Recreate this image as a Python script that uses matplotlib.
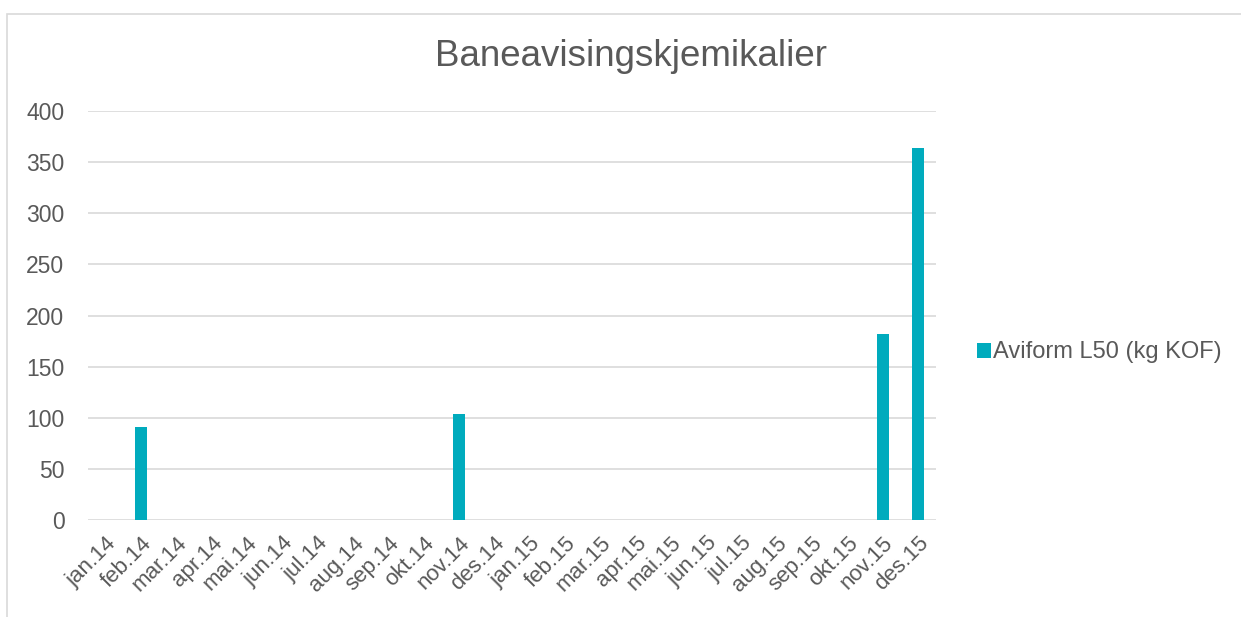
import matplotlib.pyplot as plt
from matplotlib.patches import Rectangle

plt.rcParams['font.family'] = ['Liberation Sans', 'DejaVu Sans']

months = ["jan.14", "feb.14", "mar.14", "apr.14", "mai.14", "jun.14",
          "jul.14", "aug.14", "sep.14", "okt.14", "nov.14", "des.14",
          "jan.15", "feb.15", "mar.15", "apr.15", "mai.15", "jun.15",
          "jul.15", "aug.15", "sep.15", "okt.15", "nov.15", "des.15"]
aviform = [0, 91, 0, 0, 0, 0, 0, 0, 0, 0, 104, 0,
           0, 0, 0, 0, 0, 0, 0, 0, 0, 0, 182, 364]

grey = "#595959"
teal = "#00ABBD"

fig = plt.figure(figsize=(12.41, 6.17), dpi=100)
ax = fig.add_axes([0.071, 0.157, 0.683, 0.663])

# ramme rundt hele figuren
fig.patches.append(Rectangle((0.006, -0.01), 1.5, 0.988, transform=fig.transFigure,
                             fill=False, edgecolor="#D9D9D9", linewidth=1.2))

idx = range(len(months))
ax.bar(idx, aviform, width=0.33, color=teal, label="Aviform L50 (kg KOF)", zorder=3)

ax.set_xlim(-0.5, len(months) - 0.5)
ax.set_ylim(0, 400)
ax.set_yticks(range(0, 401, 50))
ax.set_xticks(list(idx))
ax.set_xticklabels(months, rotation=45, ha="right", rotation_mode="anchor",
                   fontsize=16, color=grey)
ax.tick_params(axis="y", labelsize=16.5, labelcolor=grey, length=0, pad=17)
ax.tick_params(axis="x", length=0, pad=9)
ax.grid(axis="y", color="#D9D9D9", linewidth=1.2, zorder=0)
for s in ax.spines.values():
    s.set_visible(False)

fig.text(0.5085, 0.908, "Baneavisingskjemikalier", ha="center", va="center",
         fontsize=26.5, color=grey)

ax.legend(loc="center left", bbox_to_anchor=(1.024, 0.41), frameon=False,
          fontsize=17, handlelength=0.6, handleheight=0.6, handletextpad=0.05,
          labelcolor=grey)

plt.savefig("out.png", dpi=100)
